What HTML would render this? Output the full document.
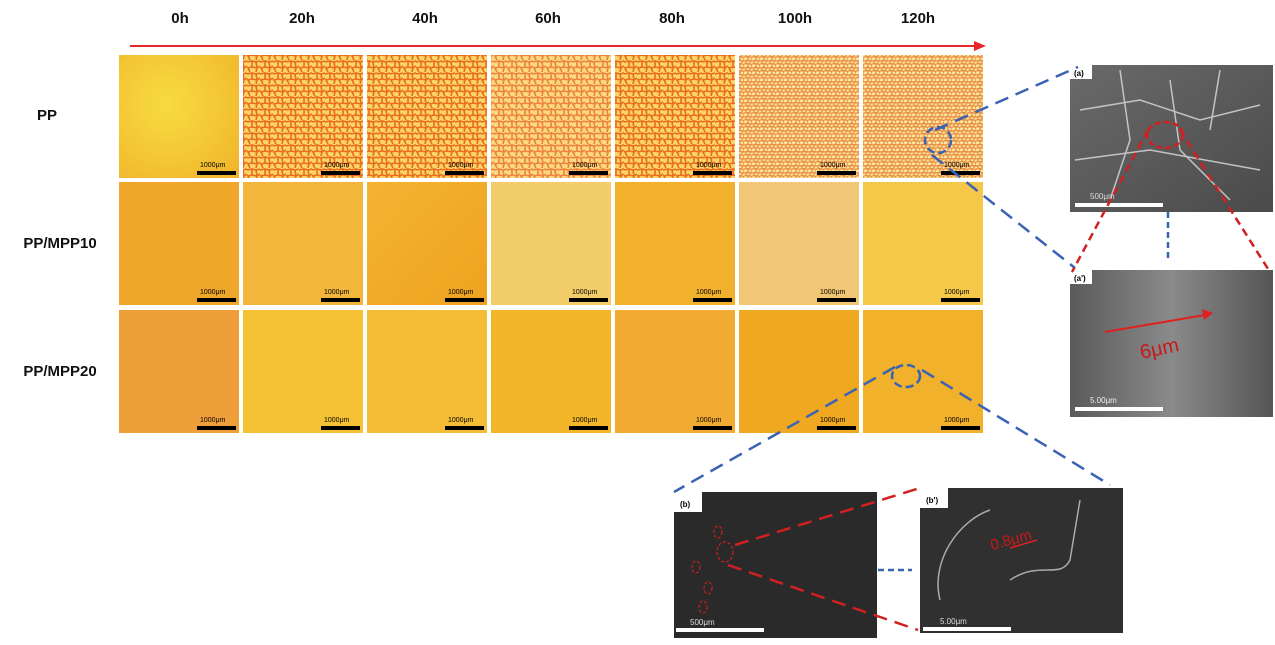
<!DOCTYPE html>
<html><head><meta charset="utf-8"><style>
body{margin:0;background:#fff;width:1275px;height:640px;overflow:hidden}
svg text{font-family:"Liberation Sans",sans-serif}
</style></head><body>
<svg width="1275" height="640" viewBox="0 0 1275 640" xmlns="http://www.w3.org/2000/svg">
<defs>
<pattern id="crack" width="13" height="12" patternUnits="userSpaceOnUse">
<rect width="13" height="12" fill="#f8d566"/>
<path d="M0 2 L5 1 L9 2 L13 1 M5 1 L5 7 L1 8 L0 7 M5 7 L10 8 L13 6 M10 8 L9 12 M1 8 L3 12 M9 2 L10 8" stroke="#ec6a1e" stroke-width="1.6" fill="none"/>
</pattern>
<pattern id="crack2" width="8" height="7" patternUnits="userSpaceOnUse">
<rect width="8" height="7" fill="#f9e3a0"/>
<path d="M0 1 L4 0.5 L8 1.5 M4 0.5 L4 4.5 L0 5 M4 4.5 L8 5 M8 1.5 L8 5 M2 5 L2 7 M6 5 L6 7" stroke="#ea8a3a" stroke-width="1.3" fill="none"/>
</pattern>
<linearGradient id="y1" x1="0" y1="0" x2="1" y2="1"><stop offset="0" stop-color="#f3b432"/><stop offset="1" stop-color="#eea21f"/></linearGradient>
<radialGradient id="y0" cx="0.4" cy="0.4" r="0.8"><stop offset="0" stop-color="#f7dc40"/><stop offset="1" stop-color="#f1b52c"/></radialGradient>
<linearGradient id="sem" x1="0" y1="0" x2="1" y2="1"><stop offset="0" stop-color="#6a6a6a"/><stop offset="1" stop-color="#4a4a4a"/></linearGradient>
<linearGradient id="sem2" x1="0" y1="0" x2="1" y2="0"><stop offset="0" stop-color="#5a5a5a"/><stop offset="0.5" stop-color="#8a8a8a"/><stop offset="1" stop-color="#555"/></linearGradient>
</defs>

<g font-weight="bold" font-size="15" text-anchor="middle" fill="#111">
<text x="180" y="23">0h</text><text x="302" y="23">20h</text><text x="425" y="23">40h</text>
<text x="548" y="23">60h</text><text x="672" y="23">80h</text><text x="795" y="23">100h</text><text x="918" y="23">120h</text>
<text x="47" y="120">PP</text><text x="60" y="248">PP/MPP10</text><text x="60" y="376">PP/MPP20</text>
</g>
<line x1="130" y1="46" x2="978" y2="46" stroke="#e8262a" stroke-width="2"/>
<polygon points="986,46 974,41 974,51" fill="#e8262a"/>

<!-- row 1 -->
<rect x="119" y="55" width="120" height="123" fill="url(#y0)"/>
<rect x="243" y="55" width="120" height="123" fill="url(#crack)"/>
<rect x="367" y="55" width="120" height="123" fill="url(#crack)"/>
<rect x="491" y="55" width="120" height="123" fill="url(#crack)" opacity="0.85"/>
<rect x="615" y="55" width="120" height="123" fill="url(#crack)"/>
<rect x="739" y="55" width="120" height="123" fill="url(#crack2)"/>
<rect x="863" y="55" width="120" height="123" fill="url(#crack2)"/>
<!-- row 2 -->
<rect x="119" y="182" width="120" height="123" fill="#efa72a"/>
<rect x="243" y="182" width="120" height="123" fill="#f2b63a"/>
<rect x="367" y="182" width="120" height="123" fill="url(#y1)"/>
<rect x="491" y="182" width="120" height="123" fill="#f2cd6a"/>
<rect x="615" y="182" width="120" height="123" fill="#f2b12c"/>
<rect x="739" y="182" width="120" height="123" fill="#f1c674"/>
<rect x="863" y="182" width="120" height="123" fill="#f5c84a"/>
<!-- row 3 -->
<rect x="119" y="310" width="120" height="123" fill="#ee9f3a"/>
<rect x="243" y="310" width="120" height="123" fill="#f5c236"/>
<rect x="367" y="310" width="120" height="123" fill="#f4bd36"/>
<rect x="491" y="310" width="120" height="123" fill="#f3b628"/>
<rect x="615" y="310" width="120" height="123" fill="#f1ab32"/>
<rect x="739" y="310" width="120" height="123" fill="#f0a820"/>
<rect x="863" y="310" width="120" height="123" fill="#f2b12a"/>

<g id="bars" fill="#000" font-size="7">
<g><rect x="197" y="171" width="39" height="4"/><text x="200" y="167">1000μm</text></g>
<g><rect x="321" y="171" width="39" height="4"/><text x="324" y="167">1000μm</text></g>
<g><rect x="445" y="171" width="39" height="4"/><text x="448" y="167">1000μm</text></g>
<g><rect x="569" y="171" width="39" height="4"/><text x="572" y="167">1000μm</text></g>
<g><rect x="693" y="171" width="39" height="4"/><text x="696" y="167">1000μm</text></g>
<g><rect x="817" y="171" width="39" height="4"/><text x="820" y="167">1000μm</text></g>
<g><rect x="941" y="171" width="39" height="4"/><text x="944" y="167">1000μm</text></g>
<g transform="translate(0,127)"><rect x="197" y="171" width="39" height="4"/><text x="200" y="167">1000μm</text>
<rect x="321" y="171" width="39" height="4"/><text x="324" y="167">1000μm</text>
<rect x="445" y="171" width="39" height="4"/><text x="448" y="167">1000μm</text>
<rect x="569" y="171" width="39" height="4"/><text x="572" y="167">1000μm</text>
<rect x="693" y="171" width="39" height="4"/><text x="696" y="167">1000μm</text>
<rect x="817" y="171" width="39" height="4"/><text x="820" y="167">1000μm</text>
<rect x="941" y="171" width="39" height="4"/><text x="944" y="167">1000μm</text></g>
<g transform="translate(0,255)"><rect x="197" y="171" width="39" height="4"/><text x="200" y="167">1000μm</text>
<rect x="321" y="171" width="39" height="4"/><text x="324" y="167">1000μm</text>
<rect x="445" y="171" width="39" height="4"/><text x="448" y="167">1000μm</text>
<rect x="569" y="171" width="39" height="4"/><text x="572" y="167">1000μm</text>
<rect x="693" y="171" width="39" height="4"/><text x="696" y="167">1000μm</text>
<rect x="817" y="171" width="39" height="4"/><text x="820" y="167">1000μm</text>
<rect x="941" y="171" width="39" height="4"/><text x="944" y="167">1000μm</text></g>
</g>

<!-- SEM images -->
<rect x="1070" y="65" width="203" height="147" fill="url(#sem)"/>
<g stroke="#ddd" stroke-width="1.5" fill="none" opacity="0.8">
<path d="M1080 110 L1140 100 L1200 120 L1260 105 M1120 70 L1130 140 L1110 200 M1170 80 L1180 150 L1230 200 M1075 160 L1150 150 L1260 170 M1220 70 L1210 130"/>
</g>
<rect x="1070" y="65" width="22" height="14" fill="#fff"/><text x="1074" y="76" font-size="8" font-weight="bold">(a)</text>
<rect x="1075" y="203" width="88" height="4" fill="#fff"/><text x="1090" y="199" font-size="8" fill="#ddd">500μm</text>

<rect x="1070" y="270" width="203" height="147" fill="url(#sem2)"/>
<rect x="1070" y="270" width="22" height="14" fill="#fff"/><text x="1074" y="281" font-size="8" font-weight="bold">(a')</text>
<rect x="1075" y="407" width="88" height="4" fill="#fff"/><text x="1090" y="403" font-size="8" fill="#eee">5.00μm</text>
<line x1="1105" y1="332" x2="1205" y2="315" stroke="#e02020" stroke-width="2"/>
<polygon points="1213,313 1202,309 1204,320" fill="#e02020"/>
<text x="1140" y="355" font-size="20" fill="#c81818" font-family="Liberation Serif" transform="rotate(-12 1160 350)">6μm</text>

<rect x="674" y="492" width="203" height="146" fill="#2a2a2a"/>
<rect x="674" y="492" width="28" height="20" fill="#fff"/><text x="680" y="507" font-size="8" font-weight="bold">(b)</text>
<rect x="676" y="628" width="88" height="4" fill="#fff"/><text x="690" y="625" font-size="8" fill="#ddd">500μm</text>
<g stroke="#d02020" stroke-width="1.2" fill="none" stroke-dasharray="3,2">
<ellipse cx="718" cy="532" rx="4" ry="6"/><ellipse cx="696" cy="567" rx="4" ry="6"/><ellipse cx="708" cy="588" rx="4" ry="6"/><ellipse cx="703" cy="607" rx="4" ry="6"/><ellipse cx="725" cy="552" rx="8" ry="10"/>
</g>

<rect x="920" y="488" width="203" height="145" fill="#303030"/>
<path d="M940 600 C930 560 960 520 990 510 M1010 580 C1040 560 1060 580 1070 560 L1080 500" stroke="#aaa" stroke-width="1.5" fill="none"/>
<rect x="920" y="488" width="28" height="20" fill="#fff"/><text x="926" y="503" font-size="8" font-weight="bold">(b')</text>
<rect x="923" y="627" width="88" height="4" fill="#fff"/><text x="940" y="624" font-size="8" fill="#ddd">5.00μm</text>
<line x1="1037" y1="540" x2="1010" y2="548" stroke="#e02020" stroke-width="1.5"/>
<text x="990" y="545" font-size="15" fill="#c81818" font-family="Liberation Serif" transform="rotate(-15 1010 540)">0.8μm</text>

<!-- dashed connectors -->
<g fill="none" stroke-width="2.5" stroke-dasharray="14,8">
<ellipse cx="938" cy="140" rx="13" ry="13" stroke="#3a63b5" stroke-dasharray="8,4"/>
<line x1="935" y1="130" x2="1078" y2="67" stroke="#3a63b5"/>
<line x1="932" y1="155" x2="1075" y2="268" stroke="#3a63b5"/>
<ellipse cx="906" cy="376" rx="14" ry="11" stroke="#3a63b5" stroke-dasharray="8,4"/>
<line x1="895" y1="367" x2="674" y2="492" stroke="#3a63b5"/>
<line x1="922" y1="370" x2="1110" y2="485" stroke="#3a63b5"/>
<line x1="878" y1="570" x2="912" y2="570" stroke="#3a63b5" stroke-dasharray="6,4"/>
<line x1="1168" y1="212" x2="1168" y2="262" stroke="#3a63b5" stroke-dasharray="6,4"/>
<ellipse cx="1165" cy="135" rx="18" ry="13" stroke="#d02020" stroke-dasharray="6,3"/>
<line x1="1148" y1="130" x2="1072" y2="272" stroke="#d02020" stroke-dasharray="8,5"/>
<line x1="1180" y1="130" x2="1270" y2="272" stroke="#d02020" stroke-dasharray="8,5"/>
<line x1="735" y1="545" x2="920" y2="488" stroke="#d02020"/>
<line x1="728" y1="565" x2="918" y2="630" stroke="#d02020"/>
</g>
</svg>
</body></html>
